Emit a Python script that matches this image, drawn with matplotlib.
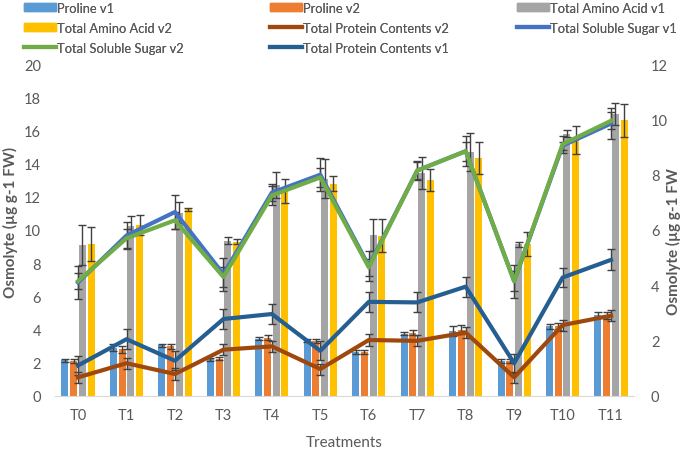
import numpy as np
import matplotlib.pyplot as plt
from matplotlib.patches import Patch
from matplotlib.lines import Line2D

plt.rcParams['font.family'] = ['Lato', 'DejaVu Sans']

treatments = ['T0', 'T1', 'T2', 'T3', 'T4', 'T5', 'T6', 'T7', 'T8', 'T9', 'T10', 'T11']

# bars, left axis (0-20)
proline_v1 = [2.15, 2.9, 3.05, 2.2, 3.45, 3.35, 2.65, 3.75, 3.9, 2.1, 4.2, 4.9]
proline_v1_err = [0.1, 0.2, 0.1, 0.1, 0.1, 0.1, 0.1, 0.1, 0.3, 0.1, 0.15, 0.15]
proline_v2 = [2.1, 2.8, 3.0, 2.25, 3.5, 3.3, 2.65, 3.8, 4.0, 2.1, 4.2, 4.85]
proline_v2_err = [0.1, 0.2, 0.15, 0.1, 0.15, 0.1, 0.1, 0.15, 0.25, 0.1, 0.2, 0.2]
taa_v1 = [9.1, 10.25, 11.05, 9.35, 12.7, 13.1, 9.7, 13.45, 14.7, 9.15, 15.8, 17.0]
taa_v1_err = [1.2, 0.6, 0.65, 0.2, 0.8, 1.2, 0.95, 0.95, 1.15, 0.15, 0.2, 0.65]
taa_v2 = [9.15, 10.3, 11.25, 9.3, 12.35, 12.8, 9.65, 13.0, 14.35, 9.15, 15.4, 16.6]
taa_v2_err = [1.0, 0.6, 0.1, 0.15, 0.7, 0.45, 1.0, 0.65, 0.95, 0.7, 0.85, 1.0]

# lines, right axis (0-12)
tss_v1 = [4.1, 5.8, 6.65, 4.4, 7.35, 8.0, 4.7, 8.15, 8.85, 4.15, 9.05, 9.85]
tss_v1_err = [0.6, 0.5, 0.6, 0.6, 0.3, 0.6, 0.55, 0.35, 0.55, 0.6, 0.15, 0.55]
tss_v2 = [4.15, 5.7, 6.35, 4.3, 7.25, 7.9, 4.65, 8.15, 8.85, 4.15, 9.1, 9.95]
tss_v2_err = [0.3, 0.35, 0.3, 0.35, 0.35, 0.35, 0.3, 0.3, 0.35, 0.35, 0.3, 0.3]
tpc_v1 = [1.1, 2.05, 1.27, 2.78, 2.96, 1.63, 3.4, 3.38, 3.95, 1.18, 4.28, 4.92]
tpc_v1_err = [0.35, 0.36, 0.35, 0.36, 0.36, 0.35, 0.36, 0.36, 0.36, 0.35, 0.36, 0.38]
tpc_v2 = [0.67, 1.18, 0.79, 1.67, 1.79, 0.97, 2.02, 1.99, 2.29, 0.67, 2.56, 2.9]
tpc_v2_err = [0.2, 0.2, 0.2, 0.2, 0.2, 0.2, 0.2, 0.2, 0.2, 0.2, 0.2, 0.2]

grey = '#595959'
ecol = '#404040'
x = np.arange(len(treatments))
w = 0.145
step = 0.18

fig = plt.figure(figsize=(6.85, 4.52), dpi=100)
ax = fig.add_axes([0.080, 0.122, 0.846, 0.734])
ax2 = ax.twinx()

ekw = dict(ecolor=ecol, elinewidth=1, capsize=3, capthick=1)
bars = [
    (proline_v1, proline_v1_err, '#5B9BD5', 'Proline v1'),
    (proline_v2, proline_v2_err, '#ED7D31', 'Proline v2'),
    (taa_v1, taa_v1_err, '#A5A5A5', 'Total Amino Acid v1'),
    (taa_v2, taa_v2_err, '#FFC000', 'Total Amino Acid v2'),
]
for i, (vals, err, col, lab) in enumerate(bars):
    ax.bar(x + (i - 1.5) * step, vals, w, yerr=err, color=col, label=lab, error_kw=ekw, zorder=2)

lines = [
    (tpc_v2, tpc_v2_err, '#9E480E', 'Total Protein Contents v2'),
    (tss_v1, tss_v1_err, '#4472C4', 'Total Soluble Sugar v1'),
    (tss_v2, tss_v2_err, '#70AD47', 'Total Soluble Sugar v2'),
    (tpc_v1, tpc_v1_err, '#255E91', 'Total Protein Contents v1'),
]
for vals, err, col, lab in lines:
    ax2.errorbar(x, vals, yerr=err, color=col, lw=3, ecolor=ecol, elinewidth=1,
                 capsize=3, capthick=1, label=lab, zorder=3)

ax.set_xlim(-0.48, 11.48)
ax.set_ylim(0, 20)
ax2.set_ylim(0, 12)
ax.set_yticks(range(0, 21, 2))
ax2.set_yticks(range(0, 13, 2))
ax.set_xticks(x)
ax.set_xticklabels(treatments)

for a in (ax, ax2):
    for s in a.spines.values():
        s.set_visible(False)
    a.tick_params(length=0, labelsize=10.5, colors=grey)
ax.spines['bottom'].set_visible(True)
ax.spines['bottom'].set_color('#D9D9D9')
ax.tick_params(axis='x', pad=9)
ax.tick_params(axis='y', pad=10)
ax2.tick_params(axis='y', pad=12)

ax.set_xlabel('Treatments', fontsize=11, color=grey, labelpad=9)
ax.set_ylabel('Osmolyte (µg g-1 FW)', fontsize=11, color=grey, fontweight='bold')
ax.yaxis.set_label_coords(-0.064, 0.527)
ax2.set_ylabel('Osmolyte (µg g-1 FW', fontsize=11, color=grey, fontweight='bold')
ax2.yaxis.set_label_coords(1.055, 0.467)

# legend: three columns placed at fixed x positions
h = {lab: Patch(color=col) for _, _, col, lab in bars}
h.update({lab: Line2D([], [], color=col, lw=3) for _, _, col, lab in lines})
columns = [
    (0.029, ['Proline v1', 'Total Amino Acid v2', 'Total Soluble Sugar v2']),
    (0.388, ['Proline v2', 'Total Protein Contents v2', 'Total Protein Contents v1']),
    (0.749, ['Total Amino Acid v1', 'Total Soluble Sugar v1']),
]
for x0, labs in columns:
    leg = fig.legend([h[k] for k in labs], labs, loc='upper left',
                     bbox_to_anchor=(x0, 1.003), frameon=False, borderaxespad=0,
                     borderpad=0.3, fontsize=9.3, labelcolor=grey, handlelength=2.5,
                     handleheight=0.6, handletextpad=0.05, labelspacing=0.62)
    fig.add_artist(leg)

fig.savefig('out.png', dpi=100)
